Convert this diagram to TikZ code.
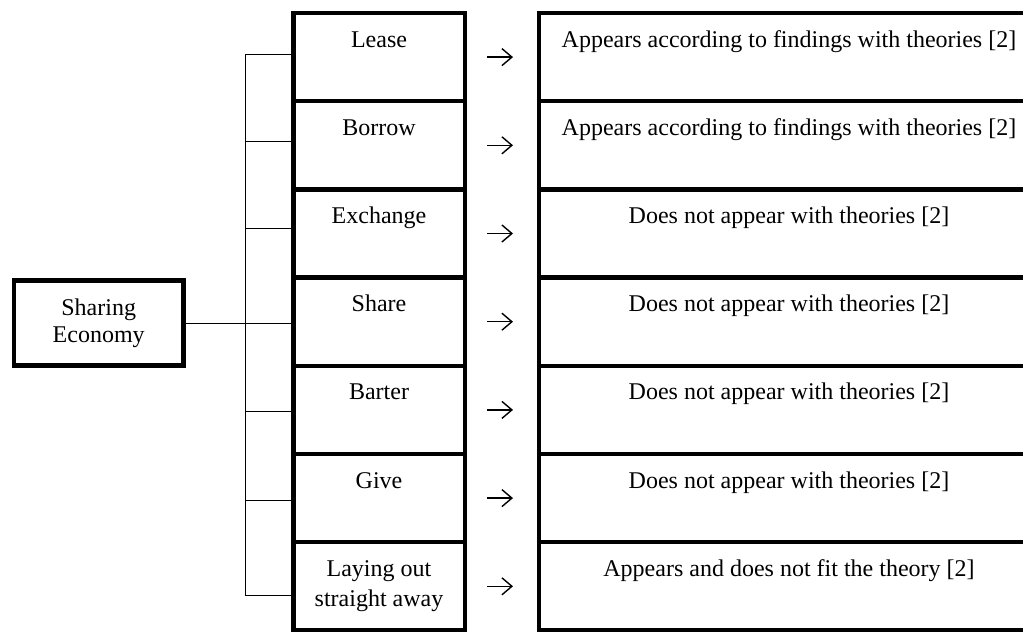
\documentclass[tikz,border=0pt]{standalone}
\usepackage{fontspec}
\setmainfont{Liberation Serif}
\usetikzlibrary{positioning,calc,arrows.meta}

\tikzset{
    box/.style={draw, line width=2.25pt, inner sep=0pt, outer sep=0pt},
    link/.style={draw, line width=0.5pt},
    pointer/.style={draw, line width=0.7pt, -{Straight Barb[length=5pt, width=8.5pt, line width=0.7pt]}},
    txt/.style={font=\fontsize{12}{15}\selectfont, inner sep=0pt, anchor=base},
}
\newcommand{\rowtext}[1]{\begin{tabular}[t]{@{}c@{}}#1\end{tabular}}

\begin{document}
\begin{tikzpicture}[x=0.5pt, y=-0.5pt]
    \useasboundingbox (0,0) rectangle (1023,632);
    \node[box, minimum width=84.8pt, minimum height=42.5pt, align=center, font=\fontsize{12}{13.5}\selectfont] (se) at (98.7,323) {Sharing\\Economy};

    \foreach \what/\found [count=\i from 0] in {Lease/{Appears according to findings with theories [2]}, Borrow/{Appears according to findings with theories [2]}, Exchange/{Does not appear with theories [2]}, Share/{Does not appear with theories [2]}, Barter/{Does not appear with theories [2]}, Give/{Does not appear with theories [2]}, {Laying out\\straight away}/{Appears and does not fit the theory [2]}} {
        \node[box, minimum width=85.75pt, minimum height=44.1pt] (l\i) at (379, 57.1+88.2*\i) {};
        \node[txt] (lt\i) at ([yshift=-17pt]l\i.north) {\rowtext{\what}};
        \node[box, minimum width=249.9pt, minimum height=44.1pt] (r\i) at (789, 57.1+88.2*\i) {};
        \node[txt] (rt\i) at ([yshift=-17pt]r\i.north) {\rowtext{\found}};
        % arrow between the columns
        \coordinate (p\i) at (487, 57.1+88.2*\i);
        \coordinate (q\i) at (513, 57.1+88.2*\i);
        \draw[pointer] (p\i) -- (q\i);
    }

    % Bracket to the left column
    \foreach \y [count=\i from 0] in {54,141.7,228,323,411.7,500,595.7} {
        \coordinate (b\i) at (245.7,\y);
        \draw[link] (b\i) -- (b\i -| l\i.west);
    }
    \draw[link] (b0) -- (b6);
    \draw[link] (se.east) -- (b3);
\end{tikzpicture}
\end{document}
